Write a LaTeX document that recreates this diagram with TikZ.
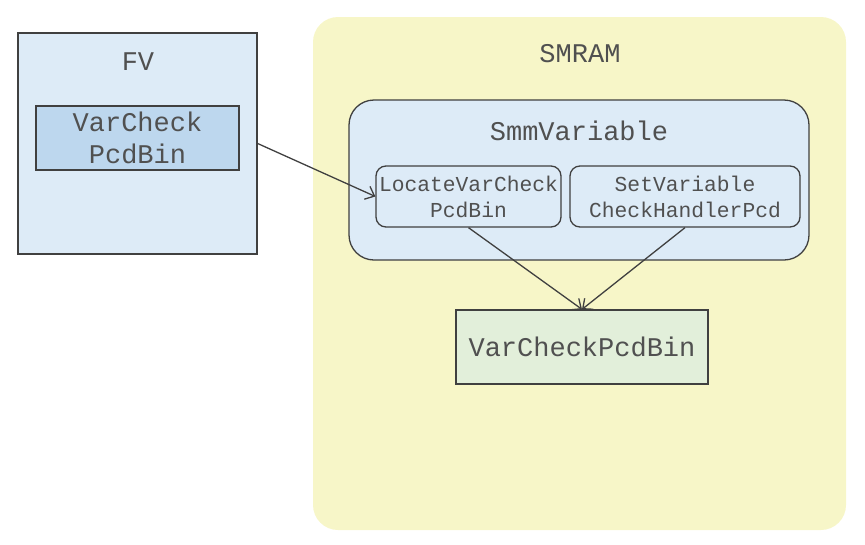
\documentclass[tikz,border=0pt]{standalone}
\usepackage{fontspec}
\setmonofont{Liberation Mono}
\usetikzlibrary{arrows.meta}
\definecolor{lblue}{HTML}{DDEBF7}
\definecolor{mblue}{HTML}{BDD7EE}
\definecolor{lyellow}{HTML}{F7F6C8}
\definecolor{lgreen}{HTML}{E2EFDA}
\definecolor{edge}{HTML}{404040}
\definecolor{txt}{HTML}{505050}
\tikzset{
  box/.style={draw=edge, line width=1.3pt, inner sep=0pt, text=txt, font=\ttfamily\fontsize{27}{32}\selectfont, align=center},
  rbox/.style={box, rounded corners=10pt},
  small/.style={font=\ttfamily\fontsize{21.3}{26}\selectfont},
  lbl/.style={text=txt, font=\ttfamily\fontsize{27}{32}\selectfont, inner sep=0pt},
  conn/.style={draw=edge, line width=1.3pt, -{Straight Barb[length=8pt,width=14pt,line width=1.3pt]}}
}
\begin{document}
\begin{tikzpicture}[x=1pt,y=-1pt]
\useasboundingbox (0,0) rectangle (865,544);
% SMRAM region
\node[fill=lyellow, rounded corners=25pt, minimum width=533pt, minimum height=513pt, inner sep=0pt] (smram) at (579.5,273.5) {};
\node[lbl] (smramlbl) at (580,54) {SMRAM};
% FV
\node[box, fill=lblue, minimum width=239pt, minimum height=221pt] (fv) at (137.5,143.5) {};
\node[lbl] (fvlbl) at (138,62) {FV};
\node[box, fill=mblue, minimum width=203pt, minimum height=64pt] (fvbin) at (137.5,138) {VarCheck\\PcdBin};
% SmmVariable
\node[box, fill=lblue, rounded corners=25pt, minimum width=460pt, minimum height=160pt] (smm) at (579,180) {};
\node[lbl] (smmlbl) at (579,131) {SmmVariable};
\node[rbox, small, fill=lblue, minimum width=185pt, minimum height=61pt] (locate) at (468.5,196.5) {LocateVarCheck\\PcdBin};
\node[rbox, small, fill=lblue, minimum width=230pt, minimum height=61pt] (setv) at (685,196.5) {SetVariable\\CheckHandlerPcd};
% bottom bin
\node[box, fill=lgreen, minimum width=252pt, minimum height=74pt] (bin) at (582,347) {VarCheckPcdBin};
% connectors
\draw[conn] (fv.east) -- (locate.west);
\draw[conn] (locate.south) -- (bin.north);
\draw[conn] (setv.south) -- (bin.north);
\end{tikzpicture}
\end{document}
